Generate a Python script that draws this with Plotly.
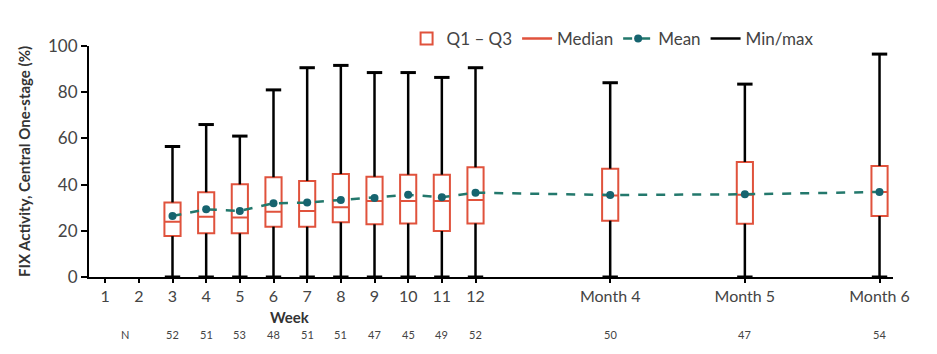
import plotly.graph_objects as go

# ---- data ----
tick_labels = ["1", "2", "3", "4", "5", "6", "7", "8", "9", "10", "11", "12", "Month 4", "Month 5", "Month 6"]
tick_pos = [1, 2, 3, 4, 5, 6, 7, 8, 9, 10, 11, 12, 16, 20, 24]

visit_pos = [3, 4, 5, 6, 7, 8, 9, 10, 11, 12, 16, 20, 24]
q1 = [17.7, 18.9, 18.9, 21.8, 21.8, 23.7, 22.8, 23.2, 19.9, 23.2, 24.4, 23.1, 26.4]
median = [23.9, 26.1, 25.8, 28.3, 28.6, 30.2, 32.9, 32.9, 32.9, 33.3, 35.3, 35.6, 36.8]
q3 = [32.3, 36.7, 40.1, 43.2, 41.6, 44.6, 43.4, 44.3, 44.3, 47.5, 46.9, 49.8, 48.1]
mean = [26.4, 29.3, 28.6, 31.9, 32.2, 33.3, 34.2, 35.6, 34.5, 36.5, 35.5, 35.8, 36.8]
vmin = [0, 0, 0, 0, 0, 0, 0, 0, 0, 0, 0, 0, 0]
vmax = [56.5, 66.0, 61.0, 81.0, 90.6, 91.6, 88.5, 88.5, 86.4, 90.6, 84.1, 83.5, 96.5]
n_vals = [52, 51, 53, 48, 51, 51, 47, 45, 49, 52, 50, 47, 54]

BOX_RED = "#e0523c"
MEAN_LINE = "#23786c"
MEAN_DOT = "#16646f"
FONT = "Lato"

fig = go.Figure()

# whiskers (min to Q1 and Q3 to max)
wx, wy = [], []
for x, lo, a, b, hi in zip(visit_pos, vmin, q1, q3, vmax):
    wx += [x, x, None, x, x, None]
    wy += [lo, a, None, b, hi, None]
fig.add_trace(go.Scatter(x=wx, y=wy, mode="lines", line=dict(color="black", width=2.5),
                         showlegend=False, hoverinfo="skip", cliponaxis=False))
fig.add_trace(go.Scatter(x=visit_pos + visit_pos, y=vmax + vmin, mode="markers",
                         marker=dict(symbol="line-ew-open", size=11, color="black",
                                     line=dict(color="black", width=3)),
                         showlegend=False, hoverinfo="skip", cliponaxis=False))

# boxes
fig.add_trace(go.Box(x=visit_pos, q1=q1, median=median, q3=q3, lowerfence=q1, upperfence=q3,
                     width=0.48, fillcolor="white", line=dict(color=BOX_RED, width=2),
                     name="Q1 – Q3", boxpoints=False, whiskerwidth=0, hoverinfo="skip"))

# legend helpers
fig.add_trace(go.Scatter(x=[None], y=[None], mode="lines", line=dict(color=BOX_RED, width=2.5),
                         name="Median"))

# mean
fig.add_trace(go.Scatter(x=visit_pos, y=mean, mode="lines+markers", name="Mean",
                         line=dict(color=MEAN_LINE, width=2.5, dash="dash"),
                         marker=dict(color=MEAN_DOT, size=8)))

fig.add_trace(go.Scatter(x=[None], y=[None], mode="lines", name="Min/max",
                         line=dict(color="black", width=2.5)))

# annotations: Week title and N row
anns = [dict(x=6.5, y=-0.172, xref="x", yref="paper", text="<b>Week</b>", showarrow=False,
             font=dict(family=FONT, size=15, color="#333"), yanchor="middle")]
anns.append(dict(x=1.6, y=-0.251, xref="x", yref="paper", text="N", showarrow=False,
                 font=dict(family=FONT, size=11, color="#444"), yanchor="middle"))
for x, n in zip(visit_pos, n_vals):
    anns.append(dict(x=x, y=-0.251, xref="x", yref="paper", text=str(n), showarrow=False,
                     font=dict(family=FONT, size=11, color="#444"), yanchor="middle"))

fig.update_layout(
    width=937, height=354,
    margin=dict(l=89, r=44, t=46, b=77),
    paper_bgcolor="white", plot_bgcolor="white",
    font=dict(family=FONT, color="#444"),
    showlegend=True,
    legend=dict(orientation="h", x=0.395, y=1.03, xanchor="left", yanchor="middle",
                font=dict(family=FONT, size=17, color="#444"), bgcolor="rgba(0,0,0,0)",
                itemwidth=30, traceorder="normal"),
    xaxis=dict(range=[0.52, 24.4], tickmode="array", tickvals=tick_pos, ticktext=tick_labels,
               showline=True, linecolor="black", linewidth=2, ticks="outside", ticklen=4,
               tickwidth=2, tickcolor="black", showgrid=False, zeroline=False,
               tickfont=dict(family=FONT, size=16, color="#444")),
    yaxis=dict(range=[0, 100], tickvals=[0, 20, 40, 60, 80, 100], showline=True,
               linecolor="black", linewidth=2, ticks="outside", ticklen=6, tickwidth=2,
               tickcolor="black", showgrid=False, zeroline=False,
               tickfont=dict(family=FONT, size=17, color="#444"),
               title=dict(text="<b>FIX Activity, Central One-stage (%)</b>",
                          font=dict(family=FONT, size=15, color="#333"), standoff=14)),
    annotations=anns,
)

fig.write_html("out.html")
